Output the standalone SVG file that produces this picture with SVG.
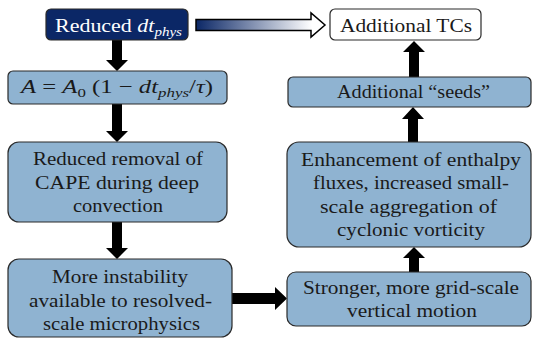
<svg xmlns="http://www.w3.org/2000/svg" width="533" height="340" viewBox="0 0 533 340">
<defs>
<style>
.box{fill:#8fb3d1;stroke:#2a2a2a;stroke-width:1.2}
.t{font-size:19px;fill:#1a1a1a}
.w{fill:#ffffff}
.i{font-style:italic}
.arr{fill:#000}
</style>
<linearGradient id="g" gradientUnits="userSpaceOnUse" x1="196" y1="0" x2="312" y2="0">
<stop offset="0" stop-color="#0b2766"/>
<stop offset="1" stop-color="#ffffff"/>
</linearGradient>
</defs>
<rect width="533" height="340" fill="#fff"/>
<g id="connectors">
<path d="M196,19.5 H311 V13 L325,25 L311,37 V30.5 H196 Z" fill="url(#g)" stroke="#000" stroke-width="1.5"/>
<polygon class="arr" points="112,40 122,40 122,60 128,60 117,71 106,60 112,60"/>
<polygon class="arr" points="112,104 122,104 122,131 128,131 117,142 106,131 112,131"/>
<polygon class="arr" points="112,222 122,222 122,248 128,248 117,259 106,248 112,248"/>
<polygon class="arr" points="232,293 275,293 275,287 287,298.5 275,310 275,304 232,304"/>
<polygon class="arr" points="409,272 419,272 419,258 425,258 414,247 403,258 409,258"/>
<polygon class="arr" points="408,142 418,142 418,119 424,119 413,107 402,119 408,119"/>
<polygon class="arr" points="409,77 419,77 419,52 425,52 414,41 403,52 409,52"/>
</g>
<g font-family="Liberation Serif, serif">
<g id="n-dt">
<rect x="46" y="9" width="142" height="31" rx="5" fill="#0b2766" stroke="#2a2a2a" stroke-width="1.2"/>
<text class="t w" x="55" y="32" textLength="127" lengthAdjust="spacingAndGlyphs">Reduced <tspan class="i">dt</tspan><tspan class="i" font-size="13" dy="4">phys</tspan></text>
</g>
<g id="n-tc">
<rect x="330" y="9" width="151" height="31" rx="5" fill="#fff" stroke="#2a2a2a" stroke-width="1.2"/>
<text class="t" x="340" y="32" textLength="132" lengthAdjust="spacingAndGlyphs">Additional TCs</text>
</g>
<g id="n-a">
<rect class="box" x="8" y="71" width="219" height="33" rx="5"/>
<text class="t" x="21" y="93" textLength="192" lengthAdjust="spacingAndGlyphs"><tspan class="i">A</tspan> = <tspan class="i">A</tspan><tspan font-size="13" dy="4">0</tspan><tspan dy="-4"> (1 − </tspan><tspan class="i">dt</tspan><tspan class="i" font-size="13" dy="4">phys</tspan><tspan dy="-4">/</tspan><tspan class="i">τ</tspan>)</text>
</g>
<g id="n-cape">
<rect class="box" x="8" y="142" width="219" height="80" rx="11"/>
<text class="t" x="33" y="165" textLength="170" lengthAdjust="spacingAndGlyphs">Reduced removal of</text>
<text class="t" x="35" y="189" textLength="164" lengthAdjust="spacingAndGlyphs">CAPE during deep</text>
<text class="t" x="73" y="212" textLength="90" lengthAdjust="spacingAndGlyphs">convection</text>
</g>
<g id="n-inst">
<rect class="box" x="8" y="259" width="224" height="78" rx="11"/>
<text class="t" x="52" y="283" textLength="136" lengthAdjust="spacingAndGlyphs">More instability</text>
<text class="t" x="29" y="307" textLength="183" lengthAdjust="spacingAndGlyphs">available to resolved-</text>
<text class="t" x="43" y="330" textLength="157" lengthAdjust="spacingAndGlyphs">scale microphysics</text>
</g>
<g id="n-motion">
<rect class="box" x="287" y="272" width="244" height="54" rx="9"/>
<text class="t" x="303" y="294" textLength="216" lengthAdjust="spacingAndGlyphs">Stronger, more grid-scale</text>
<text class="t" x="347" y="317" textLength="130" lengthAdjust="spacingAndGlyphs">vertical motion</text>
</g>
<g id="n-enth">
<rect class="box" x="287" y="142" width="244" height="105" rx="12"/>
<text class="t" x="301" y="166" textLength="220" lengthAdjust="spacingAndGlyphs">Enhancement of enthalpy</text>
<text class="t" x="313" y="189" textLength="196" lengthAdjust="spacingAndGlyphs">fluxes, increased small-</text>
<text class="t" x="320" y="213" textLength="177" lengthAdjust="spacingAndGlyphs">scale aggregation of</text>
<text class="t" x="337" y="236" textLength="148" lengthAdjust="spacingAndGlyphs">cyclonic vorticity</text>
</g>
<g id="n-seeds">
<rect class="box" x="288" y="77" width="243" height="30" rx="5"/>
<text class="t" x="337" y="98" textLength="153" lengthAdjust="spacingAndGlyphs">Additional “seeds”</text>
</g>
</g>
</svg>
